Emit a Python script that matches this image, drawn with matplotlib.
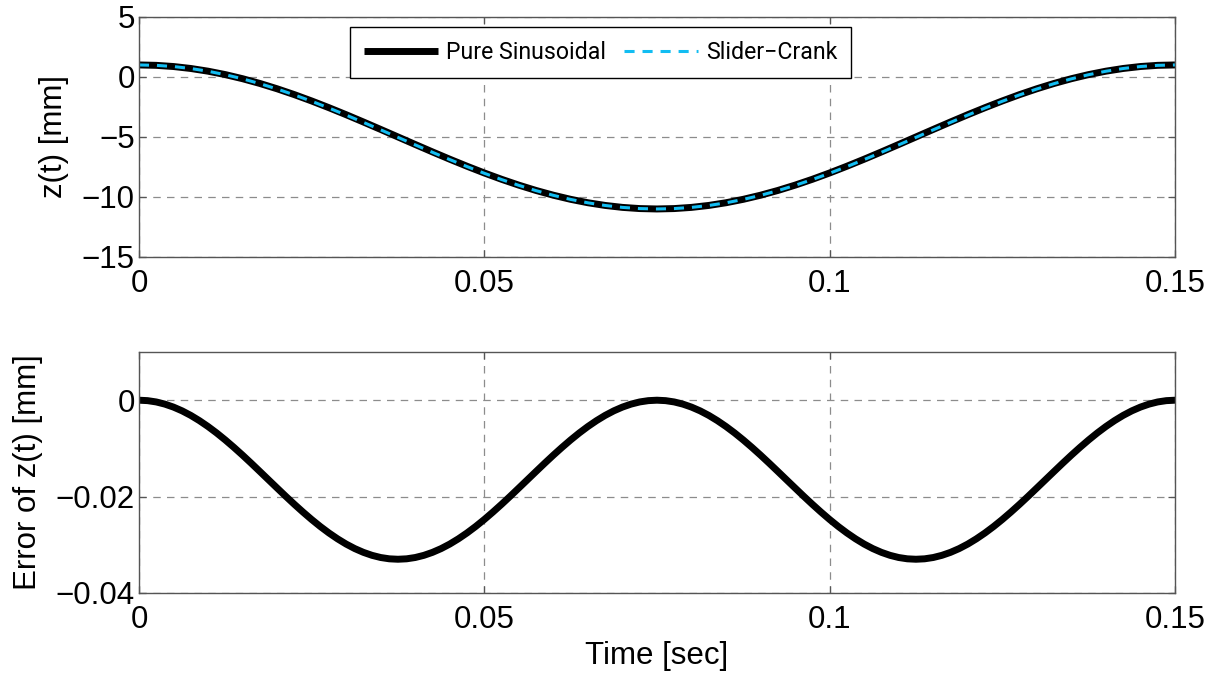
import matplotlib
matplotlib.use("Agg")
import matplotlib.pyplot as plt

# Sample times for the displacement curves [s]
time_s = [0.0, 0.0025, 0.005, 0.0075, 0.01, 0.0125, 0.015, 0.0175, 0.02, 0.0225,
          0.025, 0.0275, 0.03, 0.0325, 0.035, 0.0375, 0.04, 0.0425, 0.045, 0.0475,
          0.05, 0.0525, 0.055, 0.0575, 0.06, 0.0625, 0.065, 0.0675, 0.07, 0.0725,
          0.075, 0.0775, 0.08, 0.0825, 0.085, 0.0875, 0.09, 0.0925, 0.095, 0.0975,
          0.1, 0.1025, 0.105, 0.1075, 0.11, 0.1125, 0.115, 0.1175, 0.12, 0.1225,
          0.125, 0.1275, 0.13, 0.1325, 0.135, 0.1375, 0.14, 0.1425, 0.145, 0.1475,
          0.15]

# Displacement of the pure sinusoidal motion [mm]
z_pure = [1.000, 0.967, 0.869, 0.706, 0.481, 0.196, -0.146, -0.541, -0.985, -1.473,
          -2.000, -2.560, -3.146, -3.753, -4.373, -5.000, -5.627, -6.247, -6.854, -7.440,
          -8.000, -8.527, -9.015, -9.459, -9.854, -10.196, -10.481, -10.706, -10.869, -10.967,
          -11.000, -10.967, -10.869, -10.706, -10.481, -10.196, -9.854, -9.459, -9.015, -8.527,
          -8.000, -7.440, -6.854, -6.247, -5.627, -5.000, -4.373, -3.753, -3.146, -2.560,
          -2.000, -1.473, -0.985, -0.541, -0.146, 0.196, 0.481, 0.706, 0.869, 0.967,
          1.000]

# Displacement of the slider-crank mechanism [mm]
z_slider = [1.000, 0.967, 0.868, 0.703, 0.476, 0.188, -0.157, -0.556, -1.003, -1.495,
            -2.025, -2.588, -3.176, -3.785, -4.406, -5.033, -5.660, -6.279, -6.884, -7.468,
            -8.025, -8.549, -9.033, -9.474, -9.865, -10.204, -10.487, -10.709, -10.870, -10.967,
            -11.000, -10.967, -10.870, -10.709, -10.487, -10.204, -9.865, -9.474, -9.033, -8.549,
            -8.025, -7.468, -6.884, -6.279, -5.660, -5.033, -4.406, -3.785, -3.176, -2.588,
            -2.025, -1.495, -1.003, -0.556, -0.157, 0.188, 0.476, 0.703, 0.868, 0.967,
            1.000]

# Sample times for the error curve [s]
time_err = [0.0, 0.00125, 0.0025, 0.00375, 0.005, 0.00625, 0.0075, 0.00875, 0.01, 0.01125,
            0.0125, 0.01375, 0.015, 0.01625, 0.0175, 0.01875, 0.02, 0.02125, 0.0225, 0.02375,
            0.025, 0.02625, 0.0275, 0.02875, 0.03, 0.03125, 0.0325, 0.03375, 0.035, 0.03625,
            0.0375, 0.03875, 0.04, 0.04125, 0.0425, 0.04375, 0.045, 0.04625, 0.0475, 0.04875,
            0.05, 0.05125, 0.0525, 0.05375, 0.055, 0.05625, 0.0575, 0.05875, 0.06, 0.06125,
            0.0625, 0.06375, 0.065, 0.06625, 0.0675, 0.06875, 0.07, 0.07125, 0.0725, 0.07375,
            0.075, 0.07625, 0.0775, 0.07875, 0.08, 0.08125, 0.0825, 0.08375, 0.085, 0.08625,
            0.0875, 0.08875, 0.09, 0.09125, 0.0925, 0.09375, 0.095, 0.09625, 0.0975, 0.09875,
            0.1, 0.10125, 0.1025, 0.10375, 0.105, 0.10625, 0.1075, 0.10875, 0.11, 0.11125,
            0.1125, 0.11375, 0.115, 0.11625, 0.1175, 0.11875, 0.12, 0.12125, 0.1225, 0.12375,
            0.125, 0.12625, 0.1275, 0.12875, 0.13, 0.13125, 0.1325, 0.13375, 0.135, 0.13625,
            0.1375, 0.13875, 0.14, 0.14125, 0.1425, 0.14375, 0.145, 0.14625, 0.1475, 0.14875,
            0.15]

# Slider-crank minus pure sinusoid [mm]
z_error = [0.0, -0.00009, -0.00036, -0.00081, -0.00143, -0.00221, -0.00315, -0.00424, -0.00546, -0.00680,
           -0.00825, -0.00979, -0.01140, -0.01307, -0.01478, -0.01650, -0.01822, -0.01993, -0.02160, -0.02321,
           -0.02475, -0.02620, -0.02754, -0.02876, -0.02985, -0.03079, -0.03157, -0.03219, -0.03264, -0.03291,
           -0.03300, -0.03291, -0.03264, -0.03219, -0.03157, -0.03079, -0.02985, -0.02876, -0.02754, -0.02620,
           -0.02475, -0.02321, -0.02160, -0.01993, -0.01822, -0.01650, -0.01478, -0.01307, -0.01140, -0.00979,
           -0.00825, -0.00680, -0.00546, -0.00424, -0.00315, -0.00221, -0.00143, -0.00081, -0.00036, -0.00009,
           0.0, -0.00009, -0.00036, -0.00081, -0.00143, -0.00221, -0.00315, -0.00424, -0.00546, -0.00680,
           -0.00825, -0.00979, -0.01140, -0.01307, -0.01478, -0.01650, -0.01822, -0.01993, -0.02160, -0.02321,
           -0.02475, -0.02620, -0.02754, -0.02876, -0.02985, -0.03079, -0.03157, -0.03219, -0.03264, -0.03291,
           -0.03300, -0.03291, -0.03264, -0.03219, -0.03157, -0.03079, -0.02985, -0.02876, -0.02754, -0.02620,
           -0.02475, -0.02321, -0.02160, -0.01993, -0.01822, -0.01650, -0.01478, -0.01307, -0.01140, -0.00979,
           -0.00825, -0.00680, -0.00546, -0.00424, -0.00315, -0.00221, -0.00143, -0.00081, -0.00036, -0.00009,
           0.0]

x_ticks = [0, 0.05, 0.1, 0.15]
x_ticklabels = ["0", "0.05", "0.1", "0.15"]
top_yticks = [-15, -10, -5, 0, 5]
top_yticklabels = ["\u221215", "\u221210", "\u22125", "0", "5"]
bot_yticks = [-0.04, -0.02, 0]
bot_yticklabels = ["\u22120.04", "\u22120.02", "0"]

plt.rcParams["font.family"] = ["Liberation Sans", "DejaVu Sans"]

FS = 22.5
frame_color = "#555555"
grid_kw = dict(color="#8c8c8c", linestyle=(0, (6, 5)), linewidth=0.9)

fig = plt.figure(figsize=(12.21, 6.75), dpi=100)
ax1 = fig.add_axes([0.1138, 0.6193, 0.8485, 0.3556])
ax2 = fig.add_axes([0.1138, 0.1215, 0.8485, 0.3570])


def style_axes(ax):
    for sp in ax.spines.values():
        sp.set_color(frame_color)
        sp.set_linewidth(1.0)
    ax.tick_params(direction="in", length=5, width=0.9, color=frame_color,
                   labelsize=FS, top=True, right=True)
    ax.tick_params(axis="x", pad=9)
    ax.tick_params(axis="y", pad=3)
    ax.grid(True, **grid_kw)
    ax.set_axisbelow(True)


# Top panel: displacement
ax1.plot(time_s, z_pure, color="black", linewidth=5.0, solid_joinstyle="round",
         solid_capstyle="butt", label="Pure Sinusoidal")
ax1.plot(time_s, z_slider, color="#12bdf2", linewidth=2.2, linestyle="--",
         dashes=(3.3, 2.6), label="Slider\u2212Crank")
ax1.set_xlim(0, 0.15)
ax1.set_ylim(-15, 5)
ax1.set_xticks(x_ticks)
ax1.set_xticklabels(x_ticklabels)
ax1.set_yticks(top_yticks)
ax1.set_yticklabels(top_yticklabels)
ax1.set_ylabel("z(t) [mm]", fontsize=FS, labelpad=9)
style_axes(ax1)

leg = ax1.legend(loc="upper left", bbox_to_anchor=(0.2037, 0.958), ncol=2,
                 frameon=True, fancybox=False, edgecolor="black", framealpha=1,
                 borderaxespad=0, handlelength=3.2, handletextpad=0.35,
                 columnspacing=0.75, borderpad=0.6,
                 prop={"family": ["Roboto", "Liberation Sans"], "size": 16.7})
leg.get_frame().set_linewidth(1.0)

# Bottom panel: error
ax2.plot(time_err, z_error, color="black", linewidth=5.0, solid_joinstyle="round")
ax2.set_xlim(0, 0.15)
ax2.set_ylim(-0.04, 0.01)
ax2.set_xticks(x_ticks)
ax2.set_xticklabels(x_ticklabels)
ax2.set_yticks(bot_yticks)
ax2.set_yticklabels(bot_yticklabels)
ax2.set_ylabel("Error of z(t) [mm]", fontsize=FS, labelpad=9)
ax2.set_xlabel("Time [sec]", fontsize=FS, labelpad=4)
style_axes(ax2)

fig.savefig("out.png", dpi=100)
